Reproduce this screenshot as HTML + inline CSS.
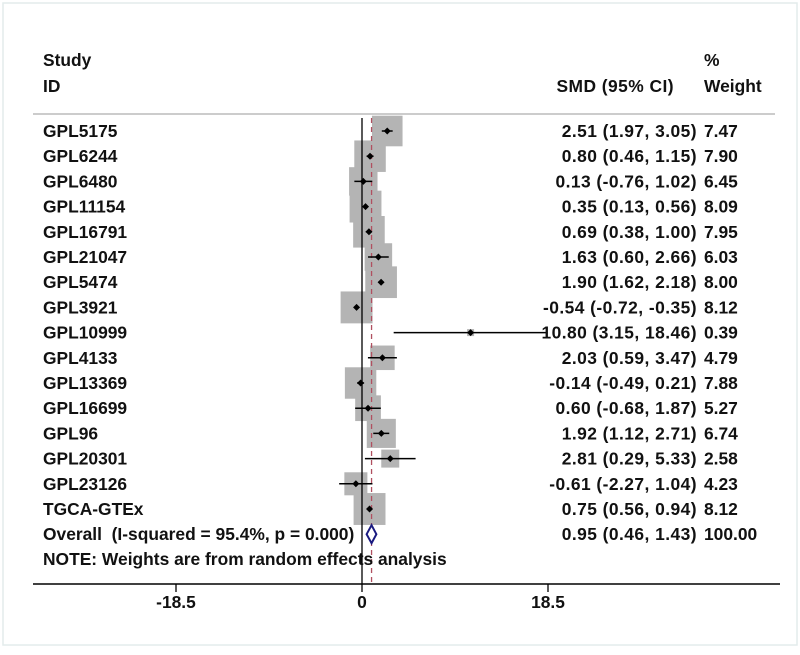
<!DOCTYPE html>
<html><head><meta charset="utf-8"><style>
body{margin:0;background:#fff}
svg text{font-family:"Liberation Sans",Arial,sans-serif;font-weight:bold;font-size:17.4px;fill:#111}
svg text.val{letter-spacing:0.45px}
</style></head><body>
<svg width="800" height="650">
<rect x="3" y="3" width="794" height="642" fill="#fff" stroke="#e3ecec" stroke-width="1.5"/>
<g id="g"></g>
</svg>
<script>
const studies=["GPL5175","GPL6244","GPL6480","GPL11154","GPL16791","GPL21047","GPL5474","GPL3921","GPL10999","GPL4133","GPL13369","GPL16699","GPL96","GPL20301","GPL23126","TGCA-GTEx"];
const smd=[2.51,0.80,0.13,0.35,0.69,1.63,1.90,-0.54,10.80,2.03,-0.14,0.60,1.92,2.81,-0.61,0.75];
const lo=[1.97,0.46,-0.76,0.13,0.38,0.60,1.62,-0.72,3.15,0.59,-0.49,-0.68,1.12,0.29,-2.27,0.56];
const hi=[3.05,1.15,1.02,0.56,1.00,2.66,2.18,-0.35,18.46,3.47,0.21,1.87,2.71,5.33,1.04,0.94];
const weight=[7.47,7.90,6.45,8.09,7.95,6.03,8.00,8.12,0.39,4.79,7.88,5.27,6.74,2.58,4.23,8.12];
const overall=[0.95,0.46,1.43];
const ticks=[-18.5,0,18.5];
const NS="http://www.w3.org/2000/svg",g=document.getElementById('g');
const X=v=>362+v*(186/18.5);
const Y=i=>131+i*25.2;
function el(t,a,txt){const e=document.createElementNS(NS,t);for(const k in a)e.setAttribute(k,a[k]);if(txt!=null)e.textContent=txt;g.appendChild(e);return e;}
const f=v=>v.toFixed(2);
const VX=697;
let e;
e=el('text',{x:43,y:66},'Study');
e=el('text',{x:43,y:92},'ID');
e=el('text',{x:674,y:92,'text-anchor':'end',class:'val'},'SMD (95% CI)');
e=el('text',{x:704,y:66},'%');
e=el('text',{x:704,y:92},'Weight');
e=el('line',{x1:33,x2:775,y1:114,y2:114,stroke:'#bbb','stroke-width':1.5});
studies.forEach((s,i)=>{const y=Y(i),side=11.2*Math.sqrt(weight[i]);
 e=el('rect',{x:X(smd[i])-side/2,y:y-side/2,width:side,height:side,fill:'#b4b4b4'});
});
e=el('line',{x1:X(0),x2:X(0),y1:118,y2:584,stroke:'#000','stroke-width':1.3});
e=el('line',{x1:X(overall[0]),x2:X(overall[0]),y1:118,y2:584,stroke:'#b05060','stroke-width':1.3,'stroke-dasharray':'5,4'});
studies.forEach((s,i)=>{const y=Y(i);
 e=el('line',{x1:X(lo[i]),x2:X(hi[i]),y1:y,y2:y,stroke:'#000','stroke-width':1.5});
 e=el('path',{d:`M${X(smd[i])-3.5},${y}L${X(smd[i])},${y-3.5}L${X(smd[i])+3.5},${y}L${X(smd[i])},${y+3.5}Z`,fill:'#000'});
 e=el('text',{x:43,y:y+6},s);
 e=el('text',{x:VX,y:y+6,'text-anchor':'end',class:'val'},`${f(smd[i])} (${f(lo[i])}, ${f(hi[i])})`);
 e=el('text',{x:704,y:y+6},f(weight[i]));
});
const oy=Y(16);
e=el('path',{d:`M${X(overall[1])},${oy}L${X(overall[0])},${oy-9}L${X(overall[2])},${oy}L${X(overall[0])},${oy+9}Z`,fill:'#fff',stroke:'#1a1a80','stroke-width':2});
e=el('text',{x:43,y:oy+6},'Overall \u00a0(I-squared = 95.4%, p = 0.000)');
e=el('text',{x:VX,y:oy+6,'text-anchor':'end',class:'val'},`${f(overall[0])} (${f(overall[1])}, ${f(overall[2])})`);
e=el('text',{x:704,y:oy+6},'100.00');
e=el('text',{x:43,y:565},'NOTE: Weights are from random effects analysis');
e=el('line',{x1:33,x2:780,y1:584,y2:584,stroke:'#000','stroke-width':1.5});
ticks.forEach(t=>{
 e=el('line',{x1:X(t),x2:X(t),y1:584,y2:592,stroke:'#000','stroke-width':1.3});
 e=el('text',{x:X(t),y:608,'text-anchor':'middle'},String(t));
});
</script>
</body></html>
